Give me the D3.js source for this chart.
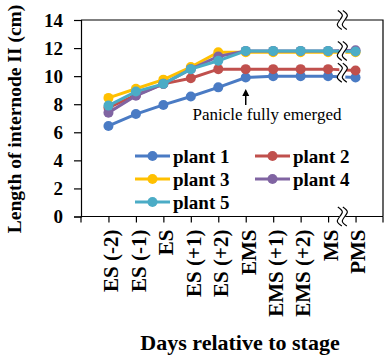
<!DOCTYPE html>
<html>
<head>
<meta charset="utf-8">
<script src="https://cdn.jsdelivr.net/npm/d3@7"></script>
<style>
  body { margin: 0; background: #fff; }
  svg { display: block; font-family: "Liberation Serif", "Times New Roman", serif; }
</style>
</head>
<body>
<div id="chart"></div>
<script>
"use strict";

const stages = ["ES (-2)", "ES (-1)", "ES", "ES (+1)", "ES (+2)", "EMS", "EMS (+1)", "EMS (+2)", "MS", "PMS"];
const yTicks = [0, 2, 4, 6, 8, 10, 12, 14];
const plant1 = [6.45, 7.3, 7.95, 8.55, 9.2, 9.9, 10.0, 10.0, 10.0, 9.9];
const plant2 = [7.75, 8.65, 9.45, 9.85, 10.5, 10.5, 10.5, 10.5, 10.5, 10.4];
const plant3 = [8.45, 9.1, 9.75, 10.65, 11.7, 11.7, 11.7, 11.7, 11.7, 11.7];
const plant4 = [7.4, 8.6, 9.45, 10.5, 11.4, 11.8, 11.8, 11.8, 11.8, 11.85];
const plant5 = [7.9, 8.9, 9.45, 10.5, 11.1, 11.8, 11.8, 11.8, 11.8, 11.75];
const seriesNames = ["plant 1", "plant 2", "plant 3", "plant 4", "plant 5"];
const seriesColors = ["#4a7bc4", "#c0504d", "#ffc000", "#8064a2", "#4bacc6"];

const series = [plant1, plant2, plant3, plant4, plant5].map((values, i) => ({
  name: seriesNames[i],
  color: seriesColors[i],
  values,
}));

const width = 390;
const height = 360;
const plot = { left: 81, right: 383, top: 20, bottom: 216.5 };

const svg = d3
  .select("#chart")
  .append("svg")
  .attr("width", width)
  .attr("height", height)
  .attr("viewBox", `0 0 ${width} ${height}`);

const x = d3.scalePoint().domain(stages).range([plot.left, plot.right]).padding(1);
const y = d3.scaleLinear().domain([0, 14]).range([plot.bottom, plot.top]);

// plot frame (top + right)
svg
  .append("path")
  .attr("d", `M${plot.left},${plot.top}H${plot.right}V${plot.bottom}`)
  .attr("fill", "none")
  .attr("stroke", "#000")
  .attr("stroke-width", 1.2);

// y axis
const yAxis = svg
  .append("g")
  .attr("transform", `translate(${plot.left},0)`)
  .call(d3.axisLeft(y).tickValues(yTicks).tickSize(7).tickPadding(11));
yAxis.select(".domain").attr("stroke-width", 1.2);
yAxis.selectAll(".tick line").attr("stroke-width", 1.2);
yAxis
  .selectAll("text")
  .attr("font-size", 19)
  .attr("font-weight", "bold")
  .attr("font-family", "Liberation Serif, serif")
  .attr("fill", "#000");

// x axis
const xAxis = svg
  .append("g")
  .attr("transform", `translate(0,${plot.bottom})`)
  .call(d3.axisBottom(x).tickSizeOuter(0).tickSize(6).tickPadding(10));
xAxis.select(".domain").attr("d", `M${plot.left},0H${plot.right}`).attr("stroke-width", 1.2);
xAxis.selectAll(".tick line").attr("stroke-width", 1.2);
xAxis
  .selectAll("text")
  .attr("font-size", 21)
  .attr("font-weight", "bold")
  .attr("font-family", "Liberation Serif, serif")
  .attr("fill", "#000")
  .attr("text-anchor", "end")
  .attr("transform", "rotate(-90)")
  .attr("x", -13)
  .attr("y", 2)
  .attr("dy", "0.35em");
// end ticks at plot edges
xAxis
  .selectAll("line.edge")
  .data([plot.left, plot.right])
  .join("line")
  .attr("class", "edge")
  .attr("x1", (d) => d)
  .attr("x2", (d) => d)
  .attr("y1", 0)
  .attr("y2", 6)
  .attr("stroke", "#000")
  .attr("stroke-width", 1.2);

// series lines + markers
const line = d3
  .line()
  .x((d, i) => x(stages[i]))
  .y((d) => y(d));

const groups = svg.selectAll("g.series").data(series).join("g").attr("class", "series");
groups
  .append("path")
  .attr("d", (s) => line(s.values))
  .attr("fill", "none")
  .attr("stroke", (s) => s.color)
  .attr("stroke-width", 3);
groups
  .selectAll("circle")
  .data((s) => s.values.map((v, i) => ({ v, i, color: s.color })))
  .join("circle")
  .attr("cx", (d) => x(stages[d.i]))
  .attr("cy", (d) => y(d.v))
  .attr("r", 5)
  .attr("fill", (d) => d.color);

// axis break marks between MS and PMS
const breakX = (x("MS") + x("PMS")) / 2 + 0.5;
const breakYs = [plot.top, y(11.8), y(10.25), plot.bottom];
function wave(cx, cy, h) {
  const k = h / 2;
  return [
    [cx - 2, cy - k],
    [cx + 2.5, cy - k / 2],
    [cx - 2.5, cy + k / 2],
    [cx + 2, cy + k],
  ];
}
const breaks = svg.append("g").attr("class", "breaks");
breakYs.forEach((by) => {
  const left = wave(breakX - 2.5, by, 19);
  const right = wave(breakX + 2.5, by, 19);
  const curve = d3.line().curve(d3.curveCatmullRom);
  breaks
    .append("path")
    .attr("d", curve(left.concat(right.slice().reverse())) + "Z")
    .attr("fill", "#fff");
  breaks
    .append("rect")
    .attr("x", breakX - 3)
    .attr("y", by - 6)
    .attr("width", 6)
    .attr("height", 12)
    .attr("fill", "#fff");
  [left, right].forEach((pts) => {
    breaks
      .append("path")
      .attr("d", curve(pts))
      .attr("fill", "none")
      .attr("stroke", "#000")
      .attr("stroke-width", 1.2);
  });
});

// annotation
const emsX = x("EMS");
svg
  .append("line")
  .attr("x1", emsX)
  .attr("x2", emsX)
  .attr("y1", 105)
  .attr("y2", 94)
  .attr("stroke", "#000")
  .attr("stroke-width", 1.5);
svg
  .append("path")
  .attr("d", `M${emsX},${89}L${emsX - 3.5},${96}L${emsX + 3.5},${96}Z`)
  .attr("fill", "#000");
svg
  .append("text")
  .attr("x", 267)
  .attr("y", 120)
  .attr("text-anchor", "middle")
  .attr("font-size", 17)
  .text("Panicle fully emerged");

// legend
const legend = svg
  .selectAll("g.legend-item")
  .data(series)
  .join("g")
  .attr("class", "legend-item")
  .attr("transform", (s, i) => `translate(${i % 2 === 0 ? 135 : 255},${156 + Math.floor(i / 2) * 23})`);
legend
  .append("line")
  .attr("x1", 0)
  .attr("x2", 35)
  .attr("stroke", (s) => s.color)
  .attr("stroke-width", 3);
legend
  .append("circle")
  .attr("cx", 17.5)
  .attr("r", 5)
  .attr("fill", (s) => s.color);
legend
  .append("text")
  .attr("x", 38)
  .attr("dy", "0.35em")
  .attr("font-size", 19)
  .attr("font-weight", "bold")
  .text((s) => s.name);

// axis titles
svg
  .append("text")
  .attr("transform", `translate(21,119) rotate(-90)`)
  .attr("text-anchor", "middle")
  .attr("font-size", 19.5)
  .attr("font-weight", "bold")
  .text("Length of internode II (cm)");
svg
  .append("text")
  .attr("x", 240)
  .attr("y", 350)
  .attr("text-anchor", "middle")
  .attr("font-size", 22)
  .attr("font-weight", "bold")
  .text("Days relative to stage");
</script>
</body>
</html>
